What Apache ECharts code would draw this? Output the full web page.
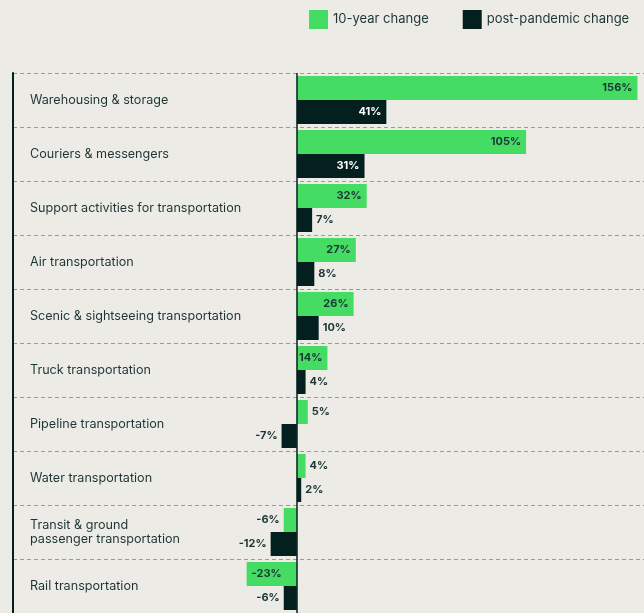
<!DOCTYPE html>
<html>
<head>
<meta charset="utf-8">
<title>Transportation employment change</title>
<script src="https://cdn.jsdelivr.net/npm/echarts@6/dist/echarts.min.js"></script>
<style>
  html, body { margin: 0; padding: 0; background: #edebe6; }
  #chart { width: 644px; height: 613px; }
</style>
</head>
<body>
<div id="chart"></div>
<script>
// Industry rows, top to bottom
const categories = [
  'Warehousing & storage',
  'Couriers & messengers',
  'Support activities for transportation',
  'Air transportation',
  'Scenic & sightseeing transportation',
  'Truck transportation',
  'Pipeline transportation',
  'Water transportation',
  'Transit & ground\npassenger transportation',
  'Rail transportation'
];

// Percent change in employment
const tenYearChange = [156, 105, 32, 27, 26, 14, 5, 4, -6, -23];
const postPandemicChange = [41, 31, 7, 8, 10, 4, -7, 2, -12, -6];

const GREEN = '#44dc63';
const DARK = '#03201f';
const TEXT = '#1d3635';

// Long bars carry their label inside the bar end; short ones outside it.
function withLabels(values, insideMin, insideColor) {
  return values.map(function (v) {
    const inside = Math.abs(v) >= insideMin;
    let position;
    if (inside) position = v >= 0 ? 'insideRight' : 'insideLeft';
    else position = v >= 0 ? 'right' : 'left';
    return {
      value: v,
      label: {
        position: position,
        distance: inside ? 5 : 4,
        color: inside ? insideColor : TEXT
      }
    };
  });
}

const chart = echarts.init(document.getElementById('chart'), null, { renderer: 'canvas' });

const labelBase = {
  show: true,
  formatter: function (p) { return p.value + '%'; },
  fontFamily: 'Inter',
  fontWeight: 'bold',
  fontSize: 11
};

chart.setOption({
  backgroundColor: '#edebe6',
  animation: false,
  textStyle: { fontFamily: 'Inter' },
  legend: {
    left: 304,
    top: 5,
    itemWidth: 19,
    itemHeight: 19,
    itemGap: 34,
    icon: 'rect',
    textStyle: { fontFamily: 'Inter', fontSize: 13, color: TEXT },
    data: ['10-year change', 'post-pandemic change']
  },
  grid: { left: 13, top: 73, width: 631, height: 544, containLabel: false },
  xAxis: {
    type: 'value',
    min: -130,
    max: 159,
    show: false,
    splitLine: { show: false }
  },
  yAxis: {
    type: 'category',
    data: categories,
    inverse: true,
    axisLine: { show: true, onZero: false, lineStyle: { color: DARK, width: 2 } },
    axisTick: { show: false },
    axisLabel: {
      inside: true,
      margin: 17,
      color: TEXT,
      fontFamily: 'Inter',
      fontSize: 12.6,
      lineHeight: 14
    },
    splitLine: {
      show: true,
      lineStyle: { color: '#9b9c98', type: [4, 3], width: 1 }
    },
    z: 1
  },
  series: [
    {
      name: '10-year change',
      type: 'bar',
      barWidth: 24,
      barGap: '0%',
      itemStyle: { color: GREEN },
      label: labelBase,
      data: withLabels(tenYearChange, 10, TEXT)
    },
    {
      name: 'post-pandemic change',
      type: 'bar',
      barWidth: 24,
      barGap: '0%',
      itemStyle: { color: DARK },
      label: labelBase,
      data: withLabels(postPandemicChange, 20, '#ffffff'),
      markLine: {
        silent: true,
        symbol: 'none',
        label: { show: false },
        lineStyle: { color: DARK, type: 'solid', width: 1.5 },
        data: [{ xAxis: 0 }]
      }
    }
  ]
});
</script>
</body>
</html>
